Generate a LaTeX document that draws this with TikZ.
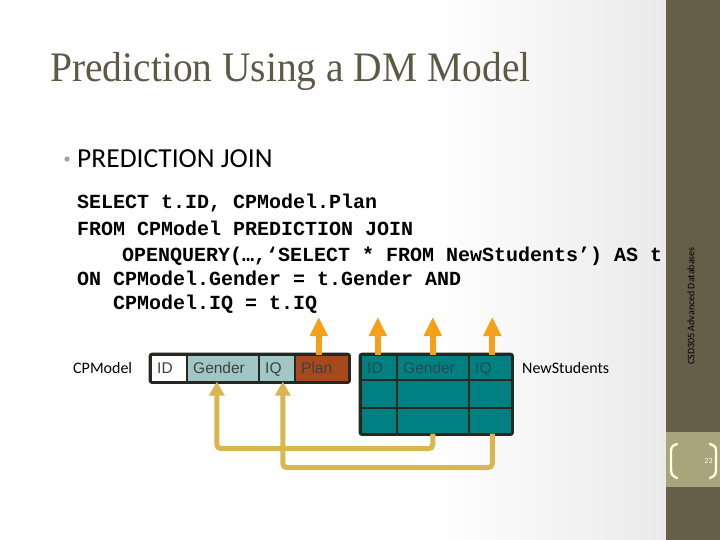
\documentclass[tikz,border=0pt]{standalone}
\usepackage{fontspec}
\setmainfont{Liberation Serif}
\setsansfont{Carlito}
\setmonofont{Liberation Mono}
\newfontfamily\arialf{Liberation Sans}
\usetikzlibrary{arrows.meta,calc}
\definecolor{sidebar}{RGB}{102,94,72}
\definecolor{pagebox}{RGB}{168,164,124}
\definecolor{cream}{RGB}{255,255,228}
\definecolor{orangeA}{RGB}{245,160,25}
\definecolor{goldA}{RGB}{218,182,80}
\definecolor{tealA}{RGB}{0,128,128}
\definecolor{tealL}{RGB}{160,198,198}
\definecolor{brownA}{RGB}{166,74,30}
\definecolor{outl}{RGB}{35,40,35}
\definecolor{titlec}{RGB}{94,89,68}
\definecolor{bulletc}{RGB}{160,165,140}
\definecolor{hdrtext}{RGB}{30,80,80}
\definecolor{bgrey}{RGB}{234,234,234}
\tikzset{
  cellbox/.style={draw=outl, line width=1.6pt, inner sep=0pt, anchor=north west},
  celltext/.style={font=\arialf\fontsize{15.5}{15.5}\selectfont, anchor=base west, inner sep=0pt},
  codeline/.style={font=\ttfamily\bfseries\fontsize{20}{20}\selectfont, anchor=base west, inner sep=0pt},
  uparrow/.style={draw=orangeA, line width=6pt, -{Triangle[width=17pt,length=19pt]}, color=orangeA},
  goldline/.style={draw=goldA, line width=5pt, rounded corners=4pt, -{Triangle[width=15pt,length=14pt]}, color=goldA},
  lbl/.style={font=\sffamily\fontsize{16}{16}\selectfont, anchor=base west, inner sep=0pt}
}
\begin{document}
\begin{tikzpicture}[x=1pt,y=-1pt]
\useasboundingbox (0,0) rectangle (720,540);
% background
\fill[white] (0,0) rectangle (720,540);
\shade[left color=white, right color=bgrey] (430,0) rectangle (666,540);
% sidebar
\fill[sidebar] (666,0) rectangle (720,540);
\fill[pagebox] (666,432) rectangle (720,487);
\draw[cream, line width=2.4pt, line cap=round] (677,444) .. controls (671,446) and (671,448) .. (671,452) -- (671,469) .. controls (671,474) and (672,476) .. (677,478);
\draw[cream, line width=2.4pt, line cap=round] (710,444) .. controls (716,446) and (716,448) .. (716,452) -- (716,469) .. controls (716,474) and (715,476) .. (710,478);
\node[font=\sffamily\fontsize{8}{8}\selectfont, text=cream, inner sep=0pt] (pnum) at (708.5,461) {23};
\node[font=\sffamily\fontsize{10}{10}\selectfont, rotate=90, inner sep=0pt] (footer) at (691,306) {CSD305 Advanced Databases};
% title
\node[font=\rmfamily\fontsize{42}{42}\selectfont, text=titlec, anchor=base west, inner sep=0pt] (title) at (50,82) {\scalebox{0.94}[1]{Prediction Using a DM Model}};
% bullet
\fill[bulletc] (67,159) circle (2.6);
\node[font=\sffamily\fontsize{27.5}{27.5}\selectfont, anchor=base west, inner sep=0pt] (bul) at (77,168) {PREDICTION JOIN};
% code
\node[codeline] (c1) at (77,208) {SELECT t.ID, CPModel.Plan};
\node[codeline] (c2) at (77,236) {FROM CPModel PREDICTION JOIN};
\node[codeline] (c3) at (122,261) {OPENQUERY(…,‘SELECT * FROM NewStudents’) AS t};
\node[codeline] (c4) at (77,285) {ON CPModel.Gender = t.Gender AND};
\node[codeline] (c5) at (113,309) {CPModel.IQ = t.IQ};
% CPModel table
\node[lbl] (cplbl) at (73,373.5) {CPModel};
\node[cellbox, fill=white, minimum width=36pt, minimum height=27pt] (cpid) at (150,354) {};
\node[cellbox, fill=tealL, minimum width=72pt, minimum height=27pt] (cpgender) at (186,354) {};
\node[cellbox, fill=tealL, minimum width=36pt, minimum height=27pt] (cpiq) at (258,354) {};
\node[cellbox, fill=brownA, minimum width=54pt, minimum height=27pt] (cpplan) at (294,354) {};
\draw[outl, line width=2.6pt, rounded corners=2pt] (cpid.north west) rectangle (cpplan.south east);
\node[celltext, text=black!75] at (157,373.5) {ID};
\node[celltext, text=black!75] at (193,373.5) {Gender};
\node[celltext, text=black!75] at (265,373.5) {IQ};
\node[celltext, text=black!75] at (301,373.5) {Plan};
% NewStudents table
\node[cellbox, fill=tealA, minimum width=36pt, minimum height=25pt] (nsid) at (360,354) {};
\node[cellbox, fill=tealA, minimum width=72pt, minimum height=25pt] (nsgender) at (396,354) {};
\node[cellbox, fill=tealA, minimum width=43pt, minimum height=25pt] (nsiq) at (468,354) {};
\node[cellbox, fill=tealA, minimum width=36pt, minimum height=28pt] (nsid2) at (360,379) {};
\node[cellbox, fill=tealA, minimum width=72pt, minimum height=28pt] (nsgender2) at (396,379) {};
\node[cellbox, fill=tealA, minimum width=43pt, minimum height=28pt] (nsiq2) at (468,379) {};
\node[cellbox, fill=tealA, minimum width=36pt, minimum height=26pt] (nsid3) at (360,407) {};
\node[cellbox, fill=tealA, minimum width=72pt, minimum height=26pt] (nsgender3) at (396,407) {};
\node[cellbox, fill=tealA, minimum width=43pt, minimum height=26pt] (nsiq3) at (468,407) {};
\draw[outl, line width=2.6pt, rounded corners=2pt] (nsid.north west) rectangle (nsiq3.south east);
\node[celltext, text=hdrtext] at (367,373.5) {ID};
\node[celltext, text=hdrtext] at (403,373.5) {Gender};
\node[celltext, text=hdrtext] at (475,373.5) {IQ};
\node[lbl] (nslbl) at (522,373.5) {NewStudents};
% orange arrows
\coordinate (a1) at ([xshift=-3pt]cpplan.north |- 0,317);
\coordinate (a2) at ([xshift=-1pt]nsid.north |- 0,317);
\coordinate (a3) at (nsgender.north |- 0,317);
\coordinate (a4) at ([xshift=2pt]nsiq.north |- 0,317);
\draw[uparrow] ([xshift=-3pt,yshift=-1pt]cpplan.north) -- (a1);
\draw[uparrow] ([xshift=-1pt,yshift=-1pt]nsid.north) -- (a2);
\draw[uparrow] ([yshift=-1pt]nsgender.north) -- (a3);
\draw[uparrow] ([xshift=2pt,yshift=-1pt]nsiq.north) -- (a4);
% gold connectors
\draw[goldline] ([yshift=1pt]nsgender3.south) -- ++(0,15) -| ([xshift=-6pt,yshift=1pt]cpgender.south);
\draw[goldline] ([xshift=2pt,yshift=1pt]nsiq3.south) -- ++(0,34) -| ([xshift=6pt,yshift=1pt]cpiq.south);
\end{tikzpicture}
\end{document}
